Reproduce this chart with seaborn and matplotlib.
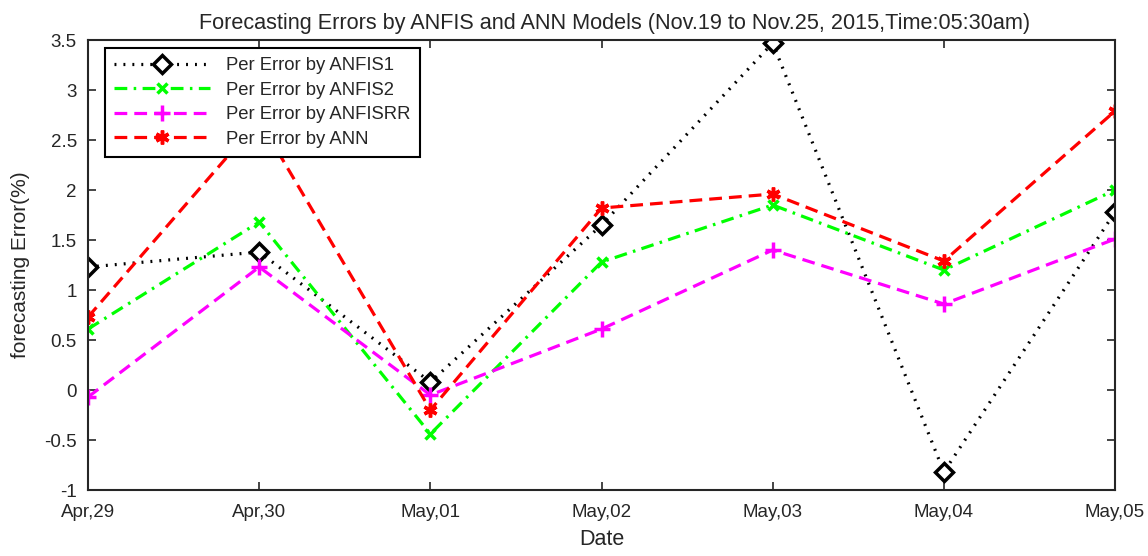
import matplotlib
matplotlib.use("Agg")
import matplotlib.pyplot as plt
import seaborn as sns
import pandas as pd

dates = ["Apr,29", "Apr,30", "May,01", "May,02", "May,03", "May,04", "May,05"]
anfis1 = [1.23, 1.38, 0.08, 1.65, 3.47, -0.82, 1.78]
anfis2 = [0.61, 1.68, -0.44, 1.28, 1.85, 1.20, 2.00]
anfisrr = [-0.07, 1.23, -0.05, 0.61, 1.40, 0.86, 1.51]
ann = [0.73, 2.70, -0.20, 1.82, 1.96, 1.29, 2.79]
y_ticks = [-1, -0.5, 0, 0.5, 1, 1.5, 2, 2.5, 3, 3.5]
y_labels = ["-1", "-0.5", "0", "0.5", "1", "1.5", "2", "2.5", "3", "3.5"]

sns.set_style("ticks")
plt.rcParams["font.family"] = ["Liberation Sans", "DejaVu Sans"]

fig = plt.figure(figsize=(11.48, 5.56), dpi=100)
ax = fig.add_axes([0.0767, 0.1187, 0.8946, 0.8093])

x = list(range(len(dates)))
series = [
    ("Per Error by ANFIS1", anfis1, "black", (0, (0.6, 2.2)), "D",
     dict(markersize=9, markerfacecolor="white", markeredgewidth=2.5)),
    ("Per Error by ANFIS2", anfis2, "#00ff00", (0, (4, 2, 0.8, 2)), "x",
     dict(markersize=7, markeredgewidth=2.5)),
    ("Per Error by ANFISRR", anfisrr, "#ff00ff", (0, (4, 2.2)), "+",
     dict(markersize=12, markeredgewidth=2.5)),
    ("Per Error by ANN", ann, "#ff0000", (0, (4, 2.2)), (6, 2, 0),
     dict(markersize=10, markeredgewidth=2.5)),
]

for label, vals, color, ls, mk, mkw in series:
    df = pd.DataFrame({"x": x, "y": vals})
    sns.lineplot(data=df, x="x", y="y", ax=ax, color=color, linestyle=ls,
                 linewidth=2.3, marker=mk, markeredgecolor=color,
                 label=label, **mkw)

ax.set_xlim(0, len(dates) - 1)
ax.set_ylim(-1, 3.5)
ax.set_xticks(x)
ax.set_xticklabels(dates, fontsize=13.5)
ax.set_yticks(y_ticks)
ax.set_yticklabels(y_labels, fontsize=13.5)
ax.tick_params(direction="in", top=True, right=True, length=6, width=1.2)
ax.tick_params(axis="x", pad=10)
ax.tick_params(axis="y", pad=8)
for s in ax.spines.values():
    s.set_linewidth(1.5)
    s.set_visible(True)

ax.set_xlabel("Date", fontsize=15.5, labelpad=6)
ax.set_ylabel("forecasting Error(%)", fontsize=15, labelpad=10)
ax.set_title("Forecasting Errors by ANFIS and ANN Models (Nov.19 to Nov.25, 2015,Time:05:30am)",
             fontsize=15.6, pad=8, x=0.513)

leg = ax.legend(loc="upper left", bbox_to_anchor=(0.0166, 0.982), fontsize=13.3,
                frameon=True, fancybox=False, handlelength=5.2,
                borderpad=0.5, labelspacing=0.4, handletextpad=0.85,
                borderaxespad=0)
leg.get_frame().set_edgecolor("black")
leg.get_frame().set_linewidth(1.5)
leg.get_frame().set_alpha(1)

fig.savefig("out.png", dpi=100)
